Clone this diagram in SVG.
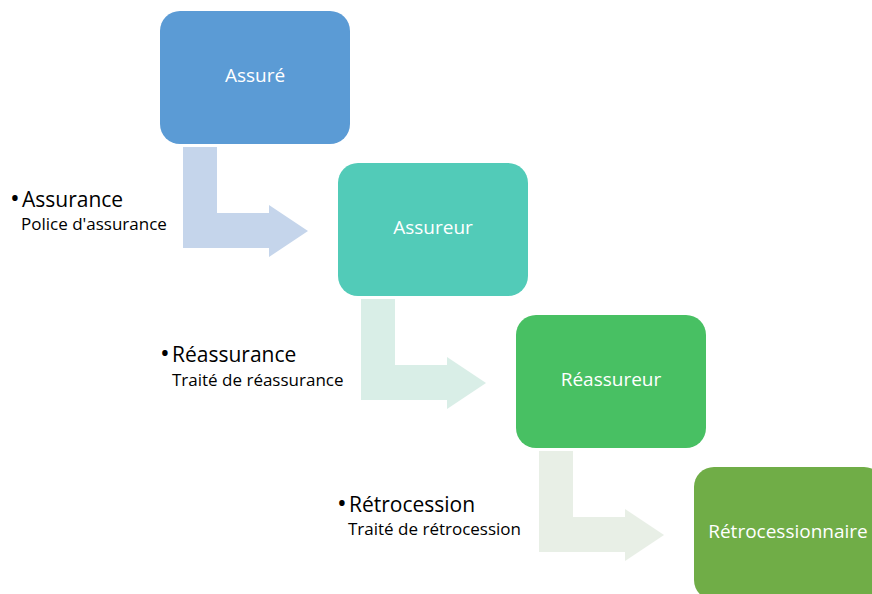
<svg xmlns="http://www.w3.org/2000/svg" xmlns:xlink="http://www.w3.org/1999/xlink" width="872" height="594" viewBox="0 0 872 594">
  <style>
    .node-label { font-family: "Open Sans", "Noto Sans", "Liberation Sans", sans-serif; font-size: 19px; fill: #ffffff; text-anchor: middle; }
    .head { font-family: "Open Sans", "Noto Sans", "Liberation Sans", sans-serif; font-size: 21px; fill: #000000; }
    .bullet { font-size: 26px; }
    .sub { font-family: "Open Sans", "Noto Sans", "Liberation Sans", sans-serif; font-size: 17px; fill: #000000; }
  </style>
  <defs>
    <!-- bent arrow: down from a box, then right into the next one -->
    <path id="bent" d="M0,0 H34 V66 H86 V58 L125,84 L86,110 V101 H0 Z"/>
    <rect id="box" x="0" y="0" width="190" height="133" rx="20" ry="20"/>
  </defs>

  <g id="connectors">
    <use xlink:href="#bent" transform="translate(183,147)" fill="#C5D5EB"/>
    <use xlink:href="#bent" transform="translate(361,299)" fill="#D9EEE7"/>
    <use xlink:href="#bent" transform="translate(539,451)" fill="#E8EFE6"/>
  </g>

  <g id="assure">
    <use xlink:href="#box" transform="translate(160,11)" fill="#5B9BD5"/>
    <text class="node-label" x="255" y="82">Assuré</text>
  </g>
  <g id="assureur">
    <use xlink:href="#box" transform="translate(338,163)" fill="#52CBB8"/>
    <text class="node-label" x="433" y="234">Assureur</text>
  </g>
  <g id="reassureur">
    <use xlink:href="#box" transform="translate(516,315)" fill="#48C063"/>
    <text class="node-label" x="611" y="386">Réassureur</text>
  </g>
  <g id="retrocessionnaire">
    <use xlink:href="#box" transform="translate(694,467)" fill="#70AD47"/>
    <text class="node-label" x="788" y="538">Rétrocessionnaire</text>
  </g>

  <g id="label-assurance">
    <text class="head" x="10" y="207"><tspan class="bullet">•</tspan><tspan x="22">Assurance</tspan></text>
    <text class="sub" x="21" y="230">Police d'assurance</text>
  </g>
  <g id="label-reassurance">
    <text class="head" x="160" y="362"><tspan class="bullet">•</tspan><tspan x="172">Réassurance</tspan></text>
    <text class="sub" x="172" y="386">Traité de réassurance</text>
  </g>
  <g id="label-retrocession">
    <text class="head" x="337" y="512"><tspan class="bullet">•</tspan><tspan x="349">Rétrocession</tspan></text>
    <text class="sub" x="348" y="535">Traité de rétrocession</text>
  </g>
</svg>
